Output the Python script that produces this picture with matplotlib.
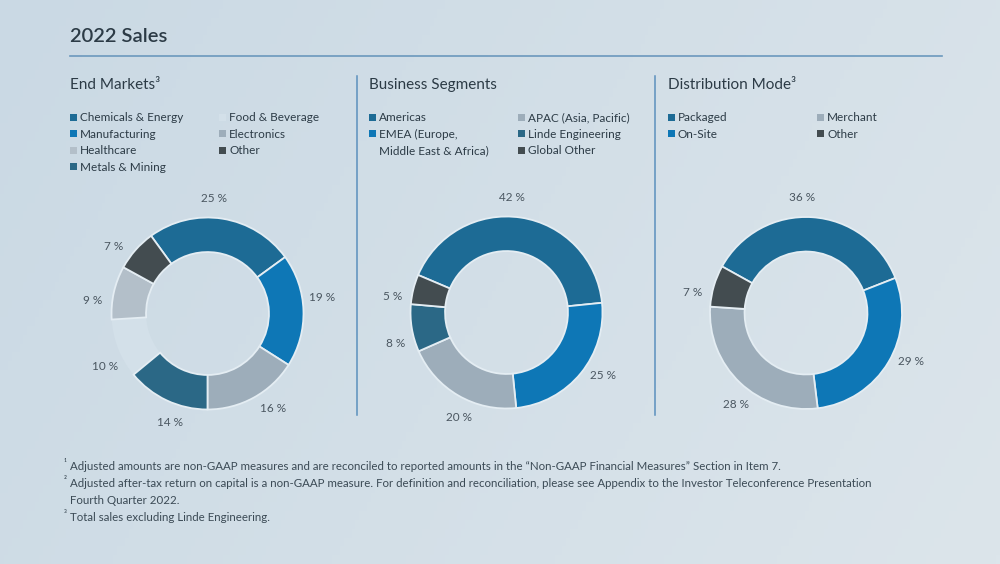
import numpy as np
import matplotlib
matplotlib.use("Agg")
import matplotlib.pyplot as plt
from matplotlib.patches import Rectangle
from matplotlib.colors import to_rgb

# ---------------- data ----------------
title = "2022 Sales"

em_title = "End Markets³"
em_labels = ["Chemicals & Energy", "Manufacturing", "Electronics", "Metals & Mining",
             "Food & Beverage", "Healthcare", "Other"]
em_values = [25, 19, 16, 14, 10, 9, 7]
em_legend_left = ["Chemicals & Energy", "Manufacturing", "Healthcare", "Metals & Mining"]
em_legend_right = ["Food & Beverage", "Electronics", "Other"]

bs_title = "Business Segments"
bs_labels = ["Americas", "EMEA (Europe,\nMiddle East & Africa)", "APAC (Asia, Pacific)",
             "Linde Engineering", "Global Other"]
bs_values = [42, 25, 20, 8, 5]
bs_legend_left = ["Americas", "EMEA (Europe,\nMiddle East & Africa)"]
bs_legend_right = ["APAC (Asia, Pacific)", "Linde Engineering", "Global Other"]

dm_title = "Distribution Mode³"
dm_labels = ["Packaged", "On-Site", "Merchant", "Other"]
dm_values = [36, 29, 28, 7]
dm_legend_left = ["Packaged", "On-Site"]
dm_legend_right = ["Merchant", "Other"]

footnotes = [
    ("¹", "Adjusted amounts are non-GAAP measures and are reconciled to reported amounts in the \u201cNon-GAAP Financial Measures\u201d Section in Item 7."),
    ("²", "Adjusted after-tax return on capital is a non-GAAP measure. For definition and reconciliation, please see Appendix to the Investor Teleconference Presentation"),
    ("", "Fourth Quarter 2022."),
    ("³", "Total sales excluding Linde Engineering."),
]

# ---------------- style ----------------
DARK_BLUE = "#1d6b95"
BRIGHT_BLUE = "#0e77b6"
MID_GRAY = "#9dadba"
LIGHT_GRAY = "#b3bfc9"
TEAL = "#2b6886"
DARK_GRAY = "#434c50"
PALE = "#d3e0e9"
colors = {
    "Chemicals & Energy": DARK_BLUE, "Manufacturing": BRIGHT_BLUE, "Electronics": MID_GRAY,
    "Metals & Mining": TEAL, "Food & Beverage": PALE, "Healthcare": LIGHT_GRAY, "Other": DARK_GRAY,
    "Americas": DARK_BLUE, "EMEA (Europe,\nMiddle East & Africa)": BRIGHT_BLUE,
    "APAC (Asia, Pacific)": MID_GRAY, "Linde Engineering": TEAL, "Global Other": DARK_GRAY,
    "Packaged": DARK_BLUE, "On-Site": BRIGHT_BLUE, "Merchant": MID_GRAY,
}
TEXT = "#2c3b46"
FOOT = "#3b4a55"
FONT = "Lato"
plt.rcParams["font.family"] = [FONT, "DejaVu Sans"]

W, H = 1000, 564
fig = plt.figure(figsize=(W / 100, H / 100), dpi=100)

# overlay axes in pixel coordinates
ov = fig.add_axes([0, 0, 1, 1])
ov.set_xlim(0, W)
ov.set_ylim(H, 0)
ov.axis("off")

# background gradient
c1 = np.array(to_rgb("#cad9e4"))
c2 = np.array(to_rgb("#dce5eb"))
gx = np.linspace(0, 1, 256)
gy = np.linspace(0, 1, 64)
GX, GY = np.meshgrid(gx, gy)
t = np.clip(0.75 * GX + 0.25 * GY, 0, 1)
img = c1[None, None, :] * (1 - t[..., None]) + c2[None, None, :] * t[..., None]
ov.imshow(img, extent=[0, W, H, 0], aspect="auto", zorder=0)

# title + rule
ov.text(70, 37, title, fontsize=14.5, color=TEXT, va="center", ha="left", fontweight="semibold")
ov.plot([70, 942], [56, 56], color="#6b98bd", lw=1.2, zorder=2)
for x in (357, 655):
    ov.plot([x, x], [76, 415], color="#5b90bd", lw=1.1, zorder=2)

panels = [
    (70, em_title, em_legend_left, em_legend_right, em_values, em_labels, 207.5, 313.5, 126),
    (369, bs_title, bs_legend_left, bs_legend_right, bs_values, bs_labels, 506.5, 312.5, 157),
    (668, dm_title, dm_legend_left, dm_legend_right, dm_values, dm_labels, 806, 313, 151),
]

ROW0, DROW = 117, 16.6
COLGAP = 149
R = 96.0
S = 150.0
LEG_FS = 8.5
for (x0, ptitle, leg_l, leg_r, vals, labs, cx, cy, start) in panels:
    ov.text(x0, 85, ptitle, fontsize=11, color=TEXT, va="center", ha="left")
    for col, entries in enumerate((leg_l, leg_r)):
        row = 0
        for lab in entries:
            xs = x0 + col * COLGAP
            y = ROW0 + row * DROW
            ov.add_patch(Rectangle((xs, y - 3.5), 7, 7, color=colors.get(lab, DARK_GRAY), zorder=3, lw=0))
            lines = lab.split("\n")
            for k, ln in enumerate(lines):
                ov.text(xs + 10, y + k * DROW + 0.5, ln, fontsize=LEG_FS, color=TEXT, va="center", ha="left")
            row += len(lines)

    ax = fig.add_axes([(cx - S) / W, 1 - (cy + S) / H, 2 * S / W, 2 * S / H])
    wedges, _ = ax.pie(vals, colors=[colors.get(l, DARK_GRAY) for l in labs], startangle=start,
                       counterclock=False, radius=1.0,
                       wedgeprops=dict(width=0.36, edgecolor="#e4edf3", linewidth=1.3))
    for w, l in zip(wedges, labs):
        if l == "Food & Beverage":
            w.set_edgecolor("none")
            w.set_zorder(0)
    ax.set_xlim(-S / R, S / R)
    ax.set_ylim(-S / R, S / R)
    ax.axis("off")
    for w, v in zip(wedges, vals):
        mid = np.deg2rad((w.theta1 + w.theta2) / 2 + 6)
        ax.text(1.2 * np.cos(mid), 1.2 * np.sin(mid), f"{v} %", ha="center", va="center",
                fontsize=8.5, color="#4a5660")

# footnotes
fy0, fdy = 467, 16.7
for i, (sup, txt) in enumerate(footnotes):
    y = fy0 + i * fdy
    if sup:
        ov.text(63.5, y - 3, sup, fontsize=6.5, color=FOOT, va="center", ha="left")
    ov.text(70, y, txt, fontsize=8.3, color=FOOT, va="center", ha="left")

fig.savefig("out.png", dpi=100)
